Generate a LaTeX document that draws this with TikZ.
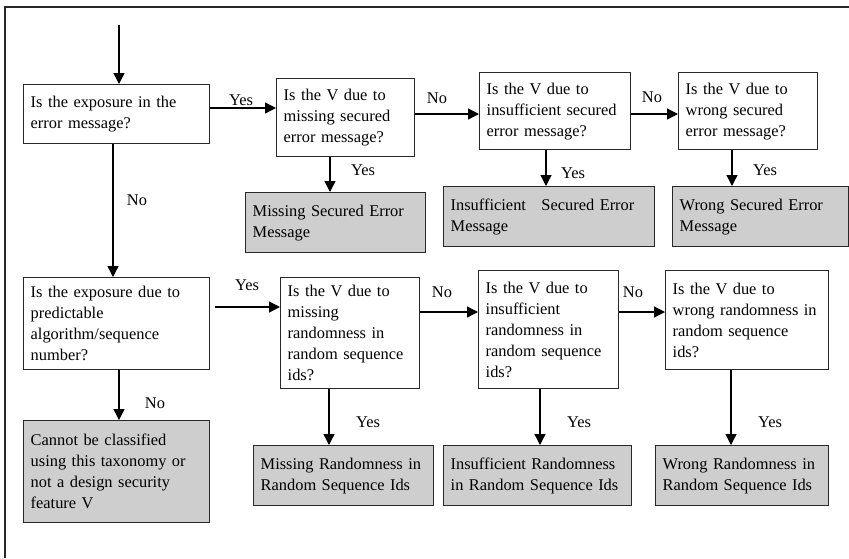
\documentclass[tikz,border=0pt]{standalone}
\usepackage{fontspec}
\setmainfont{Liberation Serif}
\usetikzlibrary{arrows.meta}
\definecolor{boxgray}{RGB}{206,206,206}
\definecolor{edge}{RGB}{40,40,40}
\tikzset{
  every node/.style={font=\fontsize{16.4}{21}\selectfont},
  qbox/.style={draw=edge, line width=1.4pt, fill=white, rectangle, anchor=north west,
               inner xsep=7pt, inner ysep=0pt, align=left},
  rbox/.style={qbox, fill=boxgray},
  arr/.style={draw=black, line width=1.3pt, -{Triangle[length=11pt,width=11pt]}},
  lbl/.style={inner sep=0pt}
}
\begin{document}
\begin{tikzpicture}[x=1pt, y=-1pt]
\useasboundingbox (0,0) rectangle (849,558);

% outer frame (top and left edges)
\draw[edge, line width=1.5pt] (5,558) -- (5,7) -- (849,7);

% first row: error message questions
\node[qbox, minimum width=186pt, text width=172pt, minimum height=59pt] (A) at (23,84)
  {Is the exposure in the\\error message?};
\node[qbox, minimum width=138pt, text width=124pt, minimum height=78pt] (B) at (276,78)
  {Is the V due to\\missing secured\\error message?};
\node[qbox, minimum width=151pt, text width=137pt, minimum height=77pt] (C) at (479,72)
  {Is the V due to\\insufficient secured\\error message?};
\node[qbox, minimum width=139pt, text width=125pt, minimum height=77pt] (D) at (678,72)
  {Is the V due to\\wrong secured\\error message?};

% first row: results
\node[rbox, minimum width=180pt, text width=166pt, minimum height=60pt] (R1) at (245,192)
  {Missing Secured Error\\Message};
\node[rbox, minimum width=211pt, text width=197pt, minimum height=60pt] (R2) at (443,186)
  {Insufficient\hspace{10pt} Secured Error\\Message};
\node[rbox, minimum width=176pt, text width=162pt, minimum height=60pt] (R3) at (672,186)
  {Wrong Secured Error\\Message};

% second row: sequence questions
\node[qbox, minimum width=186pt, text width=172pt, minimum height=92pt] (E) at (23,277)
  {Is the exposure due to\\predictable\\algorithm/sequence\\number?};
\node[qbox, minimum width=139pt, text width=125pt, minimum height=111pt] (F) at (280,277)
  {Is the V due to\\missing\\randomness in\\random sequence\\ids?};
\node[qbox, minimum width=140pt, text width=126pt, minimum height=118pt] (G) at (478,270)
  {Is the V due to\\insufficient\\randomness in\\random sequence\\ids?};
\node[qbox, minimum width=163pt, text width=149pt, minimum height=99pt] (H) at (665,270)
  {Is the V due to\\wrong randomness in\\random sequence\\ids?};

% second row: results
\node[rbox, minimum width=186pt, text width=172pt, minimum height=102pt] (R4) at (23,420)
  {Cannot be classified\\using this taxonomy or\\not a design security\\feature V};
\node[rbox, minimum width=180pt, text width=166pt, minimum height=60pt] (R5) at (253,445)
  {Missing Randomness in\\Random Sequence Ids};
\node[rbox, minimum width=188pt, text width=174pt, minimum height=60pt] (R6) at (443,445)
  {Insufficient Randomness\\in Random Sequence Ids};
\node[rbox, minimum width=173pt, text width=159pt, minimum height=60pt] (R7) at (655,445)
  {Wrong Randomness in\\Random Sequence Ids};

% entry and free start points
\coordinate (start) at (119,25);
\coordinate (eyes) at (215,307);

% connectors
\draw[arr] (start) -- (start |- A.north);
\draw[arr] (A.east |- 0,108) -- (B.west |- 0,108);
\draw[arr] (B.east |- 0,114) -- (C.west |- 0,114);
\draw[arr] (C.east |- 0,114) -- (D.west |- 0,114);
\draw[arr] (B.south -| 330,0) -- (R1.north -| 330,0);
\draw[arr] (C.south -| 546,0) -- (R2.north -| 546,0);
\draw[arr] (D.south -| 732,0) -- (R3.north -| 732,0);
\draw[arr] (A.south -| 113,0) -- (E.north -| 113,0);
\draw[arr] (E.south -| 119,0) -- (R4.north -| 119,0);
\draw[arr] (eyes) -- (eyes -| F.west);
\draw[arr] (F.east |- 0,312) -- (G.west |- 0,312);
\draw[arr] (G.east |- 0,312) -- (H.west |- 0,312);
\draw[arr] (F.south -| 329,0) -- (R5.north -| 329,0);
\draw[arr] (G.south -| 540,0) -- (R6.north -| 540,0);
\draw[arr] (H.south -| 731,0) -- (R7.north -| 731,0);

% branch labels
\node[lbl] (l1) at (241,100) {Yes};
\node[lbl] (l2) at (437,98) {No};
\node[lbl] (l3) at (652,97) {No};
\node[lbl] (l4) at (363,170) {Yes};
\node[lbl] (l5) at (573,173) {Yes};
\node[lbl] (l6) at (765,170) {Yes};
\node[lbl] (l7) at (137,200) {No};
\node[lbl] (l8) at (247,285) {Yes};
\node[lbl] (l9) at (155,403) {No};
\node[lbl] (l10) at (442,292) {No};
\node[lbl] (l11) at (633,292) {No};
\node[lbl] (l12) at (368,422) {Yes};
\node[lbl] (l13) at (579,422) {Yes};
\node[lbl] (l14) at (770,422) {Yes};
\end{tikzpicture}
\end{document}
